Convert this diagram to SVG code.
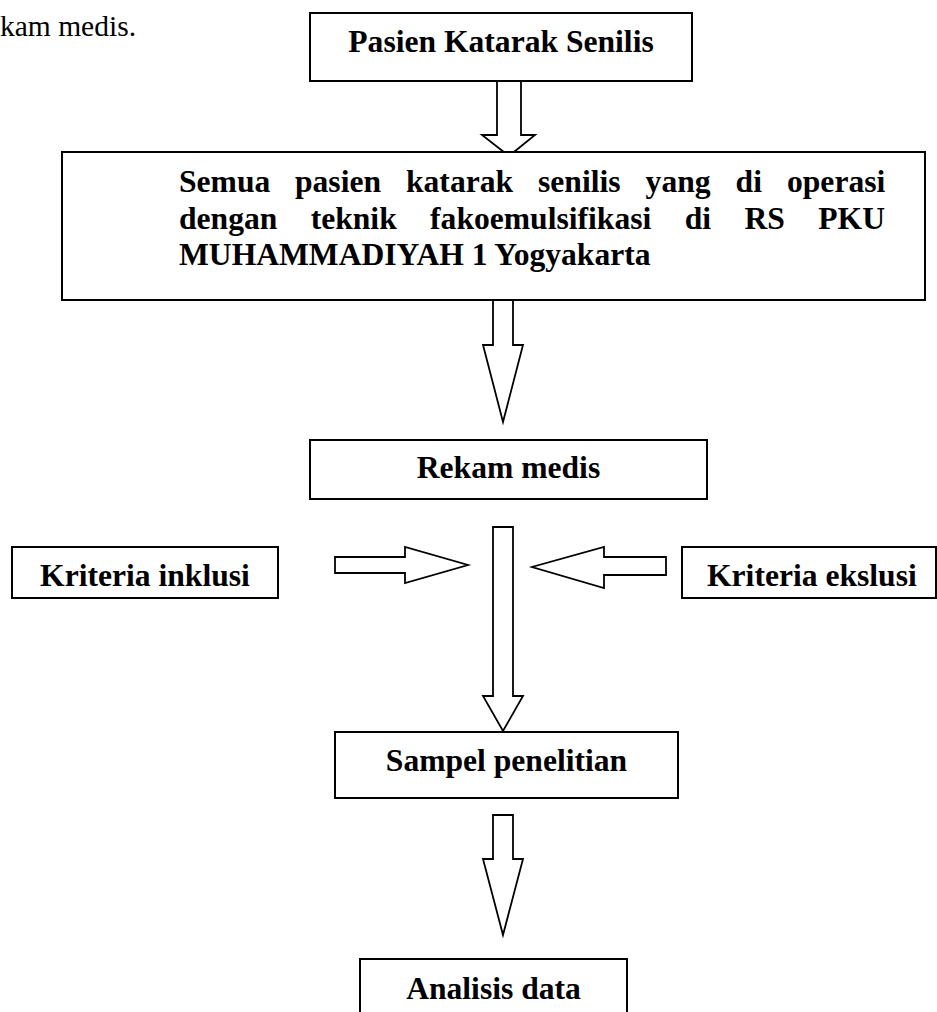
<svg xmlns="http://www.w3.org/2000/svg" width="937" height="1012" viewBox="0 0 937 1012">
<style>
.box{fill:#fff;stroke:#000;stroke-width:2}
.arr{fill:#fff;stroke:#000;stroke-width:1.8;stroke-linejoin:miter}
.t{font-family:"Liberation Serif","Times New Roman",serif;font-weight:bold;font-size:31.6px;fill:#000}
.c{text-anchor:middle}
.n{font-family:"Liberation Serif","Times New Roman",serif;font-size:29.5px;fill:#000}
</style>
<rect width="937" height="1012" fill="#fff"/>
<text class="n" x="0" y="36">kam medis.</text>
<g id="connectors">
<polygon class="arr" points="497,81 521,81 521,135 535,135 509,156 482,135 497,135"/>
<polygon class="arr" points="493,300 513,300 513,345 523,345 503,422 483,345 493,345"/>
<polygon class="arr" points="493,527 513,527 513,696 523,696 503,731 483,696 493,696"/>
<polygon class="arr" points="493,815 513,815 513,859 523,859 503,935 483,859 493,859"/>
<polygon class="arr" points="335,557 405,557 405,547 468,565 405,583 405,573 335,573"/>
<polygon class="arr" points="666,557 604,557 604,547 532,567 604,588 604,575 666,575"/>
</g>
<g id="n1">
<rect class="box" x="310" y="13" width="382" height="68"/>
<text class="t c" x="501" y="52">Pasien Katarak Senilis</text>
</g>
<g id="n2">
<rect class="box" x="62" y="152" width="863" height="148"/>
<text class="t" y="192"><tspan x="179">Semua</tspan><tspan x="295">pasien</tspan><tspan x="406">katarak</tspan><tspan x="538">senilis</tspan><tspan x="645.6">yang</tspan><tspan x="735.6">di</tspan><tspan x="787">operasi</tspan></text>
<text class="t" y="229"><tspan x="179">dengan</tspan><tspan x="310.7">teknik</tspan><tspan x="430.1">fakoemulsifikasi</tspan><tspan x="684.7">di</tspan><tspan x="744.5">RS</tspan><tspan x="818.3">PKU</tspan></text>
<text class="t" x="179" y="265">MUHAMMADIYAH 1 Yogyakarta</text>
</g>
<g id="n3">
<rect class="box" x="310" y="440" width="397" height="59"/>
<text class="t c" x="508.5" y="478">Rekam medis</text>
</g>
<g id="n4">
<rect class="box" x="12" y="547" width="266" height="51"/>
<text class="t c" x="145" y="586">Kriteria inklusi</text>
</g>
<g id="n5">
<rect class="box" x="682" y="547" width="254" height="51"/>
<text class="t" x="707" y="586">Kriteria ekslusi</text>
</g>
<g id="n6">
<rect class="box" x="335" y="732" width="343" height="66"/>
<text class="t c" x="506.5" y="771">Sampel penelitian</text>
</g>
<g id="n7">
<rect class="box" x="360" y="959" width="267" height="60"/>
<text class="t c" x="493.5" y="999">Analisis data</text>
</g>
</svg>
